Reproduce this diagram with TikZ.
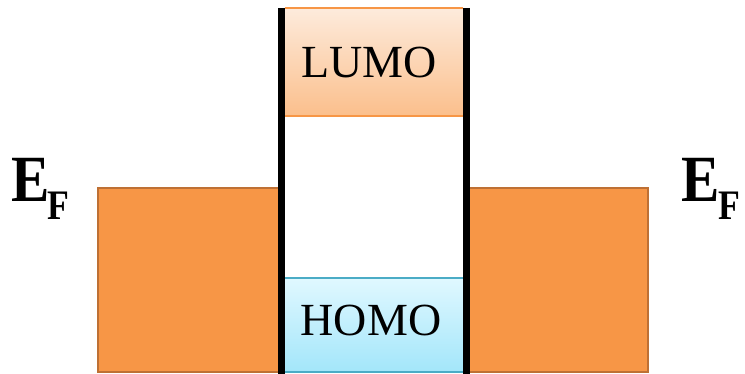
\documentclass[tikz,border=0pt]{standalone}
\usepackage{fontspec}
\usepackage{graphicx}
\setmainfont{Liberation Serif}
\definecolor{metal}{HTML}{F79646}
\definecolor{metaledge}{HTML}{BE7034}
\definecolor{lumotop}{HTML}{FDEBDC}
\definecolor{lumobot}{HTML}{FBBF8C}
\definecolor{lumoedge}{HTML}{F79646}
\definecolor{homotop}{HTML}{E0F8FF}
\definecolor{homobot}{HTML}{A3E6FA}
\definecolor{homoedge}{HTML}{4BACC6}
\tikzset{
  metalbox/.style={fill=metal, draw=metaledge, line width=1.5pt},
  levelbox/.style={rectangle, inner sep=0pt, font=\fontsize{46}{50}\selectfont},
  wall/.style={line width=7pt, black},
  eflabel/.style={inner sep=0pt, font=\bfseries\fontsize{66}{70}\selectfont}
}
\newcommand{\efsym}{\scalebox{0.87}[1]{E}\kern-1.5pt\raisebox{-18pt}{\fontsize{42}{46}\selectfont\scalebox{0.85}[1]{F}}}
\begin{document}
\begin{tikzpicture}[x=1pt, y=-1pt]
\useasboundingbox (0,0) rectangle (745,374);
% metal electrodes
\node[metalbox, minimum width=182pt, minimum height=184pt, inner sep=0pt] (leftmetal) at (189,280) {};
\node[metalbox, minimum width=180pt, minimum height=184pt, inner sep=0pt] (rightmetal) at (558,280) {};
% LUMO
\shade[top color=lumotop, bottom color=lumobot] (285,8) rectangle (463,116);
\draw[lumoedge, line width=2pt] (285,8) -- (463,8);
\draw[lumoedge, line width=2pt] (285,116) -- (463,116);
\node[levelbox] (lumo) at (369,62) {LUMO};
% HOMO
\shade[top color=homotop, bottom color=homobot] (285,278) rectangle (463,372);
\draw[homoedge, line width=2pt] (285,278) -- (463,278);
\draw[homoedge, line width=2pt] (285,372) -- (463,372);
\node[levelbox] (homo) at (371,320) {HOMO};
% barriers
\coordinate (lt) at (281.5,8);
\coordinate (lb) at (281.5,374);
\coordinate (rt) at (466.5,8);
\coordinate (rb) at (466.5,374);
\draw[wall] (lt) -- (lb);
\draw[wall] (rt) -- (rb);
% Fermi level labels
\node[eflabel, anchor=base west] (efl) at (11,202) {\efsym};
\node[eflabel, anchor=base west] (efr) at (681,202) {\efsym};
\end{tikzpicture}
\end{document}
